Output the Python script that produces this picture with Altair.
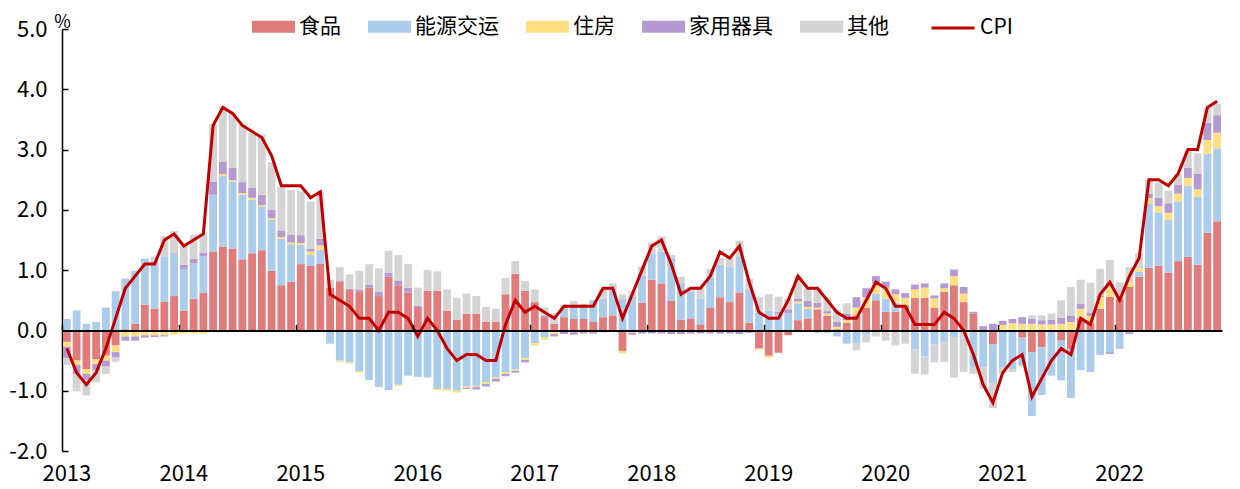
import altair as alt
import pandas as pd

# ---- data ----
years = list(range(2013, 2023))
months = [f"{y}-{m:02d}" for y in years for m in range(1, 13)][:119]
jan_months = [f"{y}-01" for y in years]

components = ["食品", "能源交运", "住房", "家用器具", "其他"]
colors = ["#E07C7C", "#ABCCEB", "#FFDF80", "#B49AD1", "#D4D4D4"]

food = [
    -0.19, -0.50, -0.64, -0.48, -0.42, -0.25, 0.02, 0.11, 0.43, 0.36, 0.48, 0.57,
    0.33, 0.52, 0.62, 1.31, 1.39, 1.36, 1.18, 1.28, 1.33, 0.99, 0.75, 0.81,
    1.10, 1.07, 1.10, 0.71, 0.81, 0.67, 0.65, 0.71, 0.57, 0.89, 0.75, 0.63,
    0.39, 0.66, 0.66, 0.33, 0.18, 0.28, 0.28, 0.14, 0.14, 0.60, 0.94, 0.66,
    0.47, 0.22, 0.11, 0.22, 0.19, 0.19, 0.14, 0.22, 0.25, -0.34, -0.02, 0.46,
    0.84, 0.78, 0.49, 0.18, 0.20, 0.10, 0.38, 0.55, 0.47, 0.63, 0.13, -0.30,
    -0.42, -0.37, -0.08, 0.17, 0.20, 0.35, 0.24, 0.02, 0.13, 0.25, 0.38, 0.50,
    0.31, 0.31, 0.42, 0.54, 0.54, 0.38, 0.64, 0.75, 0.47, 0.28, 0.00, -0.23,
    0.00, 0.00, -0.12, -0.36, -0.28, 0.00, -0.17, -0.31, 0.21, 0.12, 0.36, 0.56,
    0.53, 0.72, 0.89, 1.04, 1.07, 0.96, 1.15, 1.22, 1.09, 1.62, 1.81,
]
energy = [
    0.19, 0.33, 0.11, 0.14, 0.38, 0.65, 0.84, 0.88, 0.76, 0.80, 0.75, 0.69,
    0.69, 0.59, 0.61, 0.94, 1.17, 1.11, 1.07, 0.89, 0.73, 0.84, 0.77, 0.62,
    0.32, 0.18, 0.24, -0.22, -0.50, -0.53, -0.68, -0.82, -0.94, -0.99, -0.90, -0.75,
    -0.77, -0.78, -0.97, -0.97, -1.00, -0.93, -0.92, -0.86, -0.78, -0.69, -0.65, -0.46,
    -0.21, -0.11, -0.03, 0.19, 0.22, 0.23, 0.36, 0.31, 0.44, 0.52, 0.56, 0.45,
    0.43, 0.53, 0.71, 0.61, 0.44, 0.43, 0.50, 0.54, 0.58, 0.60, 0.54, 0.30,
    0.33, 0.28, 0.29, 0.28, 0.16, -0.04, -0.04, -0.10, -0.22, -0.21, -0.07, 0.11,
    0.22, 0.15, 0.00, -0.32, -0.43, -0.23, -0.19, -0.11, 0.00, -0.62, -0.61, -0.64,
    -0.62, -0.64, -0.46, -1.06, -0.79, -0.75, -0.66, -0.81, -0.66, -0.69, -0.41, -0.36,
    -0.28, -0.03, 0.08, 1.07, 0.89, 0.87, 0.99, 1.18, 1.13, 1.31, 1.21,
]
housing = [
    -0.08, -0.07, -0.08, -0.08, -0.08, -0.11, -0.10, -0.10, -0.08, -0.08, -0.08, -0.07,
    -0.05, -0.05, -0.05, 0.00, 0.03, 0.02, 0.03, 0.03, 0.02, 0.03, 0.03, 0.03,
    0.03, 0.06, 0.07, 0.00, -0.02, -0.02, -0.02, 0.00, 0.00, 0.00, -0.02, 0.00,
    0.00, 0.00, -0.02, -0.03, -0.03, -0.02, -0.02, -0.03, -0.02, -0.03, -0.02, -0.03,
    -0.04, -0.04, -0.03, -0.02, -0.03, -0.02, -0.02, -0.02, -0.03, -0.04, -0.02, 0.00,
    0.00, 0.00, -0.02, -0.02, 0.00, 0.00, 0.00, 0.00, 0.00, -0.02, 0.00, -0.02,
    -0.03, 0.00, 0.00, 0.03, 0.03, 0.03, 0.04, 0.04, 0.04, 0.13, 0.17, 0.17,
    0.18, 0.14, 0.12, 0.14, 0.17, 0.15, 0.06, 0.15, 0.14, 0.00, 0.00, 0.00,
    0.09, 0.12, 0.11, 0.11, 0.10, 0.10, 0.11, 0.14, 0.15, 0.12, 0.19, 0.14,
    0.05, 0.07, 0.06, 0.08, 0.10, 0.12, 0.13, 0.13, 0.12, 0.23, 0.26,
]
household = [
    -0.19, -0.16, -0.11, -0.10, -0.10, -0.09, -0.07, -0.07, -0.04, -0.03, -0.02, 0.02,
    0.07, 0.08, 0.06, 0.22, 0.21, 0.21, 0.18, 0.17, 0.17, 0.14, 0.11, 0.13,
    0.13, 0.04, 0.11, 0.00, 0.02, 0.02, 0.03, 0.05, 0.07, 0.07, 0.08, 0.08,
    0.02, 0.00, 0.00, 0.00, 0.00, -0.02, -0.04, -0.04, -0.05, -0.04, -0.03, -0.04,
    0.00, 0.02, -0.04, -0.04, -0.04, -0.03, -0.03, -0.01, 0.00, 0.00, -0.03, -0.05,
    -0.05, -0.05, -0.04, -0.04, -0.05, -0.05, -0.05, -0.05, -0.05, -0.04, -0.04, 0.00,
    0.00, 0.03, 0.06, 0.05, 0.10, 0.08, 0.04, 0.08, 0.11, 0.17, 0.15, 0.12,
    0.10, 0.08, 0.08, 0.08, 0.07, 0.05, 0.08, 0.11, 0.11, 0.03, 0.07, 0.11,
    0.07, 0.07, 0.11, 0.08, 0.07, 0.08, 0.10, 0.11, 0.08, 0.06, 0.02, -0.03,
    -0.02, -0.03, 0.00, 0.08, 0.14, 0.16, 0.15, 0.17, 0.26, 0.28, 0.29,
]
other = [
    -0.11, -0.28, -0.25, -0.20, -0.12, -0.07, 0.00, 0.00, 0.00, 0.06, 0.33, 0.37,
    0.33, 0.39, 0.32, 0.95, 0.91, 0.91, 0.96, 0.91, 1.00, 0.79, 0.73, 0.74,
    0.73, 0.79, 0.77, 0.13, 0.22, 0.24, 0.31, 0.34, 0.39, 0.36, 0.42, 0.39,
    0.30, 0.34, 0.32, 0.35, 0.36, 0.33, 0.29, 0.25, 0.22, 0.27, 0.21, 0.16,
    0.21, 0.14, 0.17, 0.02, 0.08, 0.02, 0.00, 0.16, 0.09, 0.08, 0.09, 0.15,
    0.18, 0.25, 0.05, 0.10, 0.08, 0.17, 0.14, 0.11, 0.16, 0.26, 0.19, 0.25,
    0.27, 0.25, 0.18, 0.38, 0.21, 0.24, 0.23, 0.20, 0.17, -0.12, -0.13, -0.10,
    -0.17, -0.25, -0.22, -0.40, -0.30, -0.30, -0.33, -0.67, -0.69, -0.10, -0.36, -0.42,
    -0.10, -0.05, -0.02, 0.06, 0.08, 0.10, 0.29, 0.47, 0.40, 0.49, 0.45, 0.47,
    0.22, 0.26, 0.25, 0.23, 0.25, 0.21, 0.17, 0.28, 0.34, 0.25, 0.19,
]
cpi = [
    -0.3, -0.7, -0.9, -0.7, -0.3, 0.2, 0.7, 0.9, 1.1, 1.1, 1.5, 1.6,
    1.4, 1.5, 1.6, 3.4, 3.7, 3.6, 3.4, 3.3, 3.2, 2.9, 2.4, 2.4,
    2.4, 2.2, 2.3, 0.6, 0.5, 0.4, 0.2, 0.2, 0.0, 0.3, 0.3, 0.2,
    -0.1, 0.2, 0.0, -0.3, -0.5, -0.4, -0.4, -0.5, -0.5, 0.1, 0.5, 0.3,
    0.4, 0.3, 0.2, 0.4, 0.4, 0.4, 0.4, 0.7, 0.7, 0.2, 0.6, 1.0,
    1.4, 1.5, 1.1, 0.6, 0.7, 0.7, 0.9, 1.3, 1.2, 1.4, 0.8, 0.3,
    0.2, 0.2, 0.5, 0.9, 0.7, 0.7, 0.5, 0.3, 0.2, 0.2, 0.5, 0.8,
    0.7, 0.4, 0.4, 0.1, 0.1, 0.1, 0.3, 0.2, 0.0, -0.4, -0.9, -1.2,
    -0.7, -0.5, -0.4, -1.1, -0.8, -0.5, -0.3, -0.4, 0.2, 0.1, 0.6, 0.8,
    0.5, 0.9, 1.2, 2.5, 2.5, 2.4, 2.6, 3.0, 3.0, 3.7, 3.8,
]

# ---- tables ----
series = [food, energy, housing, household, other]
rows = []
for i, m in enumerate(months):
    for k, name in enumerate(components):
        rows.append({"month": m, "component": name, "order": k, "value": series[k][i]})
bar_df = pd.DataFrame(rows)
cpi_df = pd.DataFrame({"month": months, "cpi": cpi, "series": ["CPI"] * len(months)})

FONT = "Noto Sans CJK SC"
W, H = 1160, 422
Y_MIN, Y_MAX = -2, 5
zero_from_top = H * Y_MAX / (Y_MAX - Y_MIN)

x_scale = alt.Scale(domain=months, paddingInner=0.2, paddingOuter=0.1)
y_scale = alt.Scale(domain=[Y_MIN, Y_MAX], nice=False, zero=False)
y_ticks = list(range(Y_MIN, Y_MAX + 1))

bars = alt.Chart(bar_df).mark_bar().encode(
    x=alt.X("month:O", sort=months, scale=x_scale,
            axis=alt.Axis(orient="bottom", values=jan_months, labelExpr="slice(datum.value, 0, 4)",
                          domain=False, ticks=False, tickSize=0, labelPadding=12, labelAngle=0,
                          labelFont=FONT, labelFontSize=22, labelColor="#000", title=None, grid=False)),
    y=alt.Y("value:Q", stack="zero", scale=y_scale,
            axis=alt.Axis(orient="left", values=y_ticks,
                          labelExpr="datum.value < 0 ? '-' + format(-datum.value, '.1f') : format(datum.value, '.1f')",
                          ticks=False, tickSize=0, domain=True, domainColor="#000", domainWidth=1.5,
                          labelPadding=15, labelFont=FONT, labelFontSize=22, labelColor="#000",
                          title="%", titleAngle=0, titleX=0, titleY=-2, titleAlign="center",
                          titleBaseline="alphabetic", titleFont=FONT, titleFontSize=18,
                          titleFontWeight="normal", titleColor="#000", grid=False)),
    color=alt.Color("component:N", scale=alt.Scale(domain=components, range=colors),
                    legend=alt.Legend(title=None, orient="none", legendX=190, legendY=-24,
                                      direction="horizontal",
                                      symbolType="M-1,-0.28L1,-0.28L1,0.28L-1,0.28Z",
                                      symbolSize=1849, symbolStrokeWidth=0, symbolOpacity=1,
                                      labelFont=FONT, labelFontSize=21, labelColor="#000",
                                      labelOffset=4, columnPadding=27, padding=0)),
    order=alt.Order("order:Q"),
)

line = alt.Chart(cpi_df).mark_line(strokeWidth=3).encode(
    x=alt.X("month:O", sort=months, scale=x_scale,
            axis=alt.Axis(orient="top", offset=-zero_from_top, values=jan_months, labels=False,
                          ticks=True, tickSize=6, tickWidth=1.5, tickColor="#000", bandPosition=0,
                          domain=True, domainColor="#000", domainWidth=2, title=None, grid=False,
                          zindex=1)),
    y=alt.Y("cpi:Q", scale=y_scale,
            axis=alt.Axis(orient="right", offset=-W, values=y_ticks, labels=False, ticks=True,
                          tickSize=6, tickWidth=1.5, tickColor="#000", domain=False, title=None,
                          grid=False)),
    stroke=alt.Stroke("series:N", scale=alt.Scale(domain=["CPI"], range=["#C00000"]),
                      legend=alt.Legend(title=None, orient="none", legendX=868, legendY=-24,
                                        symbolType="stroke", symbolSize=1849, symbolStrokeWidth=3,
                                        labelFont=FONT, labelFontSize=21, labelColor="#000",
                                        labelOffset=4, padding=0)),
)

chart = (
    alt.layer(bars, line)
    .resolve_axis(x="independent", y="independent")
    .resolve_scale(color="independent", stroke="independent")
    .properties(width=W, height=H, autosize=alt.AutoSizeParams(type="none"),
                padding={"left": 54, "top": 21, "right": 10, "bottom": 34})
    .configure_view(stroke=None)
)

chart.save("out.html", embed_options={"renderer": "svg", "actions": False})
